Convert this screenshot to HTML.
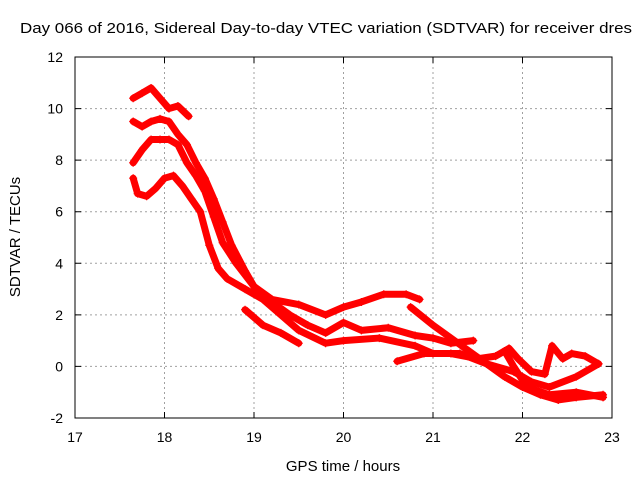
<!DOCTYPE html>
<html><head><meta charset="utf-8"><style>
body{margin:0;background:#fff;}
svg{display:block;font-family:"Liberation Sans",sans-serif;}
</style></head><body>
<svg id="chart" width="640" height="480" viewBox="0 0 640 480">
<rect width="640" height="480" fill="#fff"/>
<text x="20" y="33" font-size="15" fill="#000" textLength="612" lengthAdjust="spacingAndGlyphs">Day 066 of 2016, Sidereal Day-to-day VTEC variation (SDTVAR) for receiver dres</text>
<g id="grid"></g>
<g id="series"></g>
<rect x="75" y="57" width="537" height="361" fill="none" stroke="#000" stroke-width="1"/>
<g id="ticks"></g>
<text x="343" y="471" font-size="15" text-anchor="middle">GPS time / hours</text>
<text transform="translate(20,237) rotate(-90)" font-size="15" text-anchor="middle">SDTVAR / TECUs</text>
</svg>
<script>
const xTicks=[17,18,19,20,21,22,23];
const yTicks=[-2,0,2,4,6,8,10,12];
const track1=[[17.65,10.4],[17.75,10.6],[17.85,10.8],[17.95,10.4],[18.05,10.0],[18.15,10.1],[18.27,9.7]];
const track2=[[17.65,9.5],[17.75,9.3],[17.85,9.5],[17.95,9.6],[18.05,9.5],[18.15,9.0],[18.25,8.6],[18.35,7.9],[18.45,7.3],[18.55,6.5],[18.65,5.6],[18.75,4.7],[18.9,3.7],[19.0,3.1],[19.2,2.6],[19.5,2.4],[19.8,2.0],[20.0,2.3],[20.2,2.5],[20.45,2.8],[20.7,2.8],[20.85,2.6]];
const track3=[[17.65,7.9],[17.75,8.4],[17.85,8.8],[17.95,8.8],[18.05,8.8],[18.15,8.6],[18.25,7.9],[18.35,7.4],[18.45,6.8],[18.55,5.8],[18.65,4.8],[18.8,4.0],[19.0,3.1],[19.2,2.5],[19.4,2.0],[19.6,1.6],[19.8,1.3],[20.0,1.7],[20.2,1.4],[20.5,1.5],[20.8,1.2],[21.0,1.1],[21.2,0.9],[21.45,1.0]];
const track4=[[17.65,7.3],[17.7,6.7],[17.8,6.6],[17.9,6.9],[18.0,7.3],[18.1,7.4],[18.2,7.0],[18.3,6.5],[18.4,6.0],[18.5,4.7],[18.6,3.8],[18.7,3.4],[18.9,3.0],[19.1,2.6],[19.3,2.0],[19.5,1.4],[19.8,0.9],[20.0,1.0],[20.4,1.1],[20.8,0.8],[21.0,0.5],[21.3,0.5],[21.6,0.1],[21.9,-0.2],[22.1,-0.6],[22.3,-0.8],[22.6,-0.4],[22.85,0.1]];
const track5=[[18.9,2.2],[19.1,1.6],[19.3,1.3],[19.5,0.9]];
const track6=[[20.75,2.3],[21.0,1.6],[21.2,1.1],[21.4,0.6],[21.6,0.1],[21.8,-0.4],[22.0,-0.8],[22.2,-1.1],[22.4,-1.3],[22.6,-1.2],[22.9,-1.1]];
const track7=[[20.6,0.2],[20.9,0.5],[21.2,0.5],[21.5,0.3],[21.7,0.4],[21.85,0.7],[21.95,0.3],[22.1,-0.2],[22.25,-0.3],[22.33,0.8],[22.45,0.3],[22.55,0.5],[22.7,0.4],[22.85,0.1]];
const track8=[[21.8,0.6],[21.9,0.0],[22.05,-0.8],[22.3,-1.1],[22.6,-1.0],[22.9,-1.2]];
const tracks=[track1,track2,track3,track4,track5,track6,track7,track8];
const NS="http://www.w3.org/2000/svg";
const X0=75,X1=612,Y0=418,Y1=57;
function xs(h){return X0+(h-17)/6*(X1-X0);}
function ys(v){return Y0-(v+2)/14*(Y0-Y1);}
function mk(t,a){const e=document.createElementNS(NS,t);for(const k in a)e.setAttribute(k,a[k]);return e;}
const grid=document.getElementById('grid'),ticks=document.getElementById('ticks'),ser=document.getElementById('series');
xTicks.forEach(t=>{const x=xs(t);
 if(t>17&&t<23){const l=mk('line',{x1:x,x2:x,y1:Y1,y2:Y0,stroke:'#a0a0a0','stroke-dasharray':'2,3'});grid.appendChild(l);}
 const tk=mk('path',{d:`M${x},${Y0}v-6M${x},${Y1}v6`,stroke:'#000'});ticks.appendChild(tk);
 const tx=mk('text',{x:x,y:442,'font-size':14,'text-anchor':'middle'});tx.textContent=t;ticks.appendChild(tx);});
yTicks.forEach(t=>{const y=ys(t);
 if(t>-2&&t<12){const l=mk('line',{x1:X0,x2:X1,y1:y,y2:y,stroke:'#a0a0a0','stroke-dasharray':'2,3'});grid.appendChild(l);}
 const tk=mk('path',{d:`M${X0},${y}h6M${X1},${y}h-6`,stroke:'#000'});ticks.appendChild(tk);
 const tx=mk('text',{x:63,y:y+5,'font-size':14,'text-anchor':'end'});tx.textContent=t;ticks.appendChild(tx);});
tracks.forEach((tr,i)=>{
 const pts=tr.map(p=>xs(p[0])+','+ys(p[1])).join(' ');
 const pl=mk('polyline',{points:pts,fill:'none',stroke:'#ff0000','stroke-width':7,'stroke-linejoin':'round','stroke-linecap':'round'});
 
 
 ser.appendChild(pl);
 tr.forEach(p=>{const x=xs(p[0]),y=ys(p[1]);
  const m=mk('path',{d:`M${x-4},${y}h8M${x},${y-4}v8`,stroke:'#ff0000','stroke-width':1.2});
  
  
  ser.appendChild(m);});
});
</script>
</body></html>
